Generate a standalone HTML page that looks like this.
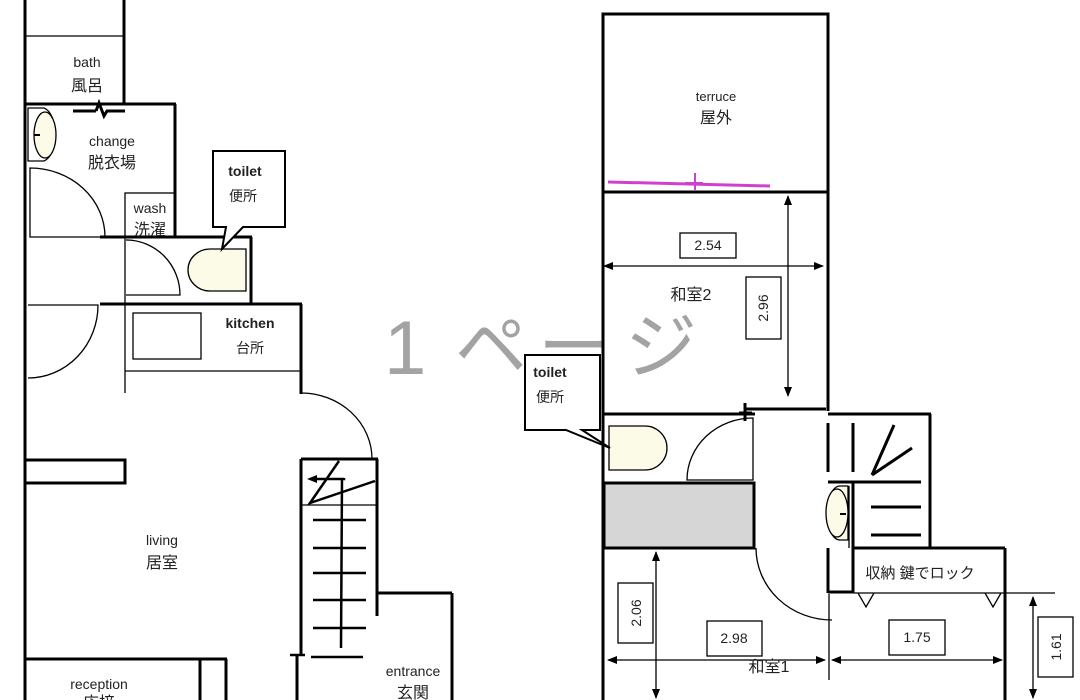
<!DOCTYPE html>
<html><head><meta charset="utf-8"><style>
html,body{margin:0;padding:0;background:#fff;}
svg{display:block;}
text{font-family:"Liberation Sans","Noto Sans CJK JP",sans-serif;fill:#222;}
</style></head><body>
<svg width="1080" height="700" viewBox="0 0 1080 700" xmlns="http://www.w3.org/2000/svg">
<defs>
<marker id="ah" markerWidth="10" markerHeight="8" refX="9" refY="4" orient="auto-start-reverse" markerUnits="userSpaceOnUse"><path d="M0,0 L10,4 L0,8 Z" fill="#000"/></marker>
</defs>
<!-- watermark -->
<g fill="#a3a3a3" font-size="72">
<text x="384" y="374" style="fill:#a3a3a3;font-family:'Liberation Sans',sans-serif" font-size="76">1</text>
<text x="455" y="372" style="fill:#a3a3a3;font-family:'Noto Sans CJK JP',sans-serif">ペ</text>
<text x="538" y="372" style="fill:#a3a3a3;font-family:'Noto Sans CJK JP',sans-serif">ー</text>
<text x="625" y="372" style="fill:#a3a3a3;font-family:'Noto Sans CJK JP',sans-serif">ジ</text>
</g>

<g stroke="#000" fill="none">
<g stroke-width="3">
<line x1="25" y1="0" x2="25" y2="700"/>
<line x1="124" y1="0" x2="124" y2="104"/>
<line x1="25" y1="104" x2="176" y2="104"/>
<line x1="175" y1="104" x2="175" y2="237"/>
<line x1="100" y1="237" x2="252" y2="237"/>
<line x1="251" y1="237" x2="251" y2="304"/>
<line x1="100" y1="304" x2="302" y2="304"/>
<line x1="301" y1="304" x2="301" y2="394"/>
<rect x="25" y="460" width="100" height="23"/>
<line x1="301" y1="459" x2="301" y2="655"/>
<line x1="301" y1="459" x2="378" y2="459"/>
<line x1="377" y1="459" x2="377" y2="616"/>
<line x1="378" y1="593" x2="452" y2="593"/>
<line x1="452" y1="593" x2="452" y2="700"/>
<line x1="297" y1="655" x2="297" y2="700"/>
<line x1="25" y1="659" x2="227" y2="659"/>
<line x1="200" y1="659" x2="200" y2="700"/>
<line x1="226" y1="659" x2="226" y2="700"/>
<line x1="73" y1="111" x2="96" y2="111"/>
<polyline points="96,111 99,103 104,116 107,111 125,111"/>
</g>
<g stroke-width="2.5">
<line x1="313" y1="520" x2="366" y2="520"/>
<line x1="313" y1="548" x2="366" y2="548"/>
<line x1="313" y1="573" x2="366" y2="573"/>
<line x1="313" y1="600" x2="366" y2="600"/>
<line x1="313" y1="628" x2="366" y2="628"/>
<line x1="311" y1="657" x2="363" y2="657"/>
<line x1="342" y1="478" x2="341" y2="648"/>
<polyline points="339,461 310,503 375,481"/>
<polyline points="344,478 344,479 315,479"/>
<line x1="290" y1="655" x2="305" y2="655"/>
</g>
<path d="M307,479 l10,-4 l0,8 z" fill="#000" stroke="none"/>
<g stroke-width="1.3">
<line x1="25" y1="36" x2="124" y2="36"/>
<rect x="125" y="193" width="50" height="44"/>
<line x1="125" y1="237" x2="125" y2="303"/>
<line x1="125" y1="304" x2="125" y2="393"/>
<line x1="125" y1="371" x2="301" y2="371"/>
<rect x="133" y="313" width="68" height="46"/>
<line x1="301" y1="505" x2="377" y2="505"/>
<path d="M30,168 A75,69 0 0 1 105,237 L30,237 Z"/>
<path d="M28,305 L98,305 A70,73 0 0 1 28,378"/>
<path d="M126,240 A54,55 0 0 1 180,295 L126,295"/>
<path d="M301,393 A71,66 0 0 1 372,459"/>
<path d="M28,108 L44,108 A14,27 0 0 1 44,161 L28,161 Z"/>
</g>
<ellipse cx="45" cy="135" rx="11" ry="23" fill="#fbfbe8" stroke-width="1.3"/>
<line x1="34" y1="135" x2="40" y2="135" stroke-width="2"/>
<path d="M246,249 L210,249 A22,21 0 0 0 210,291 L246,291 Z" fill="#fbfbe8" stroke-width="1.3"/>
<path d="M213,151 L285,151 L285,227 L243,227 L222,249 L226,227 L213,227 Z" fill="#fff" stroke-width="2"/>

<!-- RIGHT PLAN -->
<g stroke-width="3">
<rect x="603" y="14" width="225" height="178"/>
<line x1="603" y1="192" x2="603" y2="700"/>
<line x1="828" y1="192" x2="828" y2="411"/>
<line x1="828" y1="414" x2="931" y2="414"/>
<line x1="930" y1="414" x2="930" y2="548"/>
<line x1="744" y1="409" x2="826" y2="409"/>
<line x1="603" y1="414" x2="755" y2="414"/>
<rect x="604" y="483" width="150" height="65" fill="#d6d6d6"/>
<line x1="603" y1="548" x2="755" y2="548"/>
<line x1="854" y1="548" x2="1005" y2="548"/>
<line x1="1005" y1="548" x2="1005" y2="700"/>
<line x1="853" y1="483" x2="853" y2="593"/>
<line x1="828" y1="548" x2="828" y2="593"/>
<line x1="828" y1="592" x2="854" y2="592"/>
<line x1="828" y1="482" x2="921" y2="482"/>
<line x1="828" y1="423" x2="828" y2="472"/>
<line x1="853" y1="423" x2="853" y2="472"/>
<line x1="872" y1="475" x2="894" y2="425"/>
<line x1="872" y1="475" x2="912" y2="448"/>
<line x1="871" y1="507" x2="921" y2="507"/>
<line x1="871" y1="535" x2="921" y2="535"/>
<line x1="739" y1="413" x2="752" y2="413"/>
<line x1="745" y1="403" x2="745" y2="421"/>
</g>
<g stroke-width="1.3">
<path d="M753,418 A66,62 0 0 0 687,480 L753,480 Z"/>
<path d="M756,548 A76,72 0 0 0 832,620"/>
<line x1="829" y1="594" x2="829" y2="680"/>
<line x1="1005" y1="593" x2="1055" y2="593"/>
<line x1="854" y1="593" x2="1005" y2="593"/>
<path d="M858,593 L866,607 L874,593"/>
<path d="M985,593 L993,607 L1001,593"/>
<line x1="849" y1="486" x2="849" y2="548"/>
<rect x="680" y="233" width="56" height="25"/>
<rect x="746" y="277" width="35" height="62"/>
<rect x="618" y="583" width="35" height="60"/>
<rect x="707" y="621" width="55" height="35"/>
<rect x="889" y="620" width="56" height="35"/>
<rect x="1038" y="617" width="35" height="60"/>
<line x1="604" y1="266" x2="823" y2="266" marker-end="url(#ah)" marker-start="url(#ah)"/>
<line x1="788" y1="196" x2="788" y2="396" marker-end="url(#ah)" marker-start="url(#ah)"/>
<line x1="656" y1="552" x2="656" y2="698" marker-end="url(#ah)" marker-start="url(#ah)"/>
<line x1="608" y1="660" x2="825" y2="660" marker-end="url(#ah)" marker-start="url(#ah)"/>
<line x1="832" y1="660" x2="1002" y2="660" marker-end="url(#ah)" marker-start="url(#ah)"/>
<line x1="1033" y1="597" x2="1033" y2="698" marker-start="url(#ah)" marker-end="url(#ah)"/>
</g>
<path d="M609,426 L645,426 A22,22 0 0 1 645,470 L609,470 Z" fill="#fbfbe8" stroke-width="1.3"/>
<path d="M848,486 L840,486 A13,27 0 0 0 840,540 L848,540 Z" fill="#fbfbe8" stroke-width="1.3"/>
<ellipse cx="837" cy="513" rx="11" ry="24" fill="#fbfbe8" stroke-width="1.3"/>
<line x1="840" y1="514" x2="846" y2="514" stroke-width="2"/>
<path d="M608,182 L770,186" stroke="#d040d0" stroke-width="3"/>
<path d="M695,173 L695,190 M685,183 L703,183" stroke="#d040d0" stroke-width="2"/>
<path d="M525,355 L600,355 L600,430 L582,430 L610,448 L566,430 L525,430 Z" fill="#fff" stroke-width="2"/>
</g>

<g font-size="14" text-anchor="middle">
<text x="87" y="67">bath</text>
<text x="87" y="91" font-size="16">風呂</text>
<text x="112" y="146">change</text>
<text x="112" y="168" font-size="16">脱衣場</text>
<text x="150" y="213">wash</text>
<text x="150" y="235" font-size="16">洗濯</text>
<text x="245" y="176" style="font-weight:bold">toilet</text>
<text x="243" y="201">便所</text>
<text x="250" y="328" style="font-weight:bold">kitchen</text>
<text x="250" y="353">台所</text>
<text x="162" y="545">living</text>
<text x="162" y="568" font-size="16">居室</text>
<text x="99" y="689">reception</text>
<text x="99" y="708" font-size="16">応接</text>
<text x="413" y="676">entrance</text>
<text x="413" y="698" font-size="16">玄関</text>
<text x="716" y="101" font-size="13">terruce</text>
<text x="716" y="123" font-size="16">屋外</text>
<text x="550" y="377" style="font-weight:bold">toilet</text>
<text x="550" y="402">便所</text>
<text x="691" y="300" font-size="16">和室2</text>
<text x="708" y="250">2.54</text>
<text x="769" y="672" font-size="16">和室1</text>
<text x="734" y="643">2.98</text>
<text x="917" y="642">1.75</text>
<text x="920" y="578" font-size="15">収納 鍵でロック</text>
<text x="0" y="0" transform="translate(768,308) rotate(-90)">2.96</text>
<text x="0" y="0" transform="translate(641,613) rotate(-90)">2.06</text>
<text x="0" y="0" transform="translate(1061,647) rotate(-90)">1.61</text>
</g>
</svg>
</body></html>
